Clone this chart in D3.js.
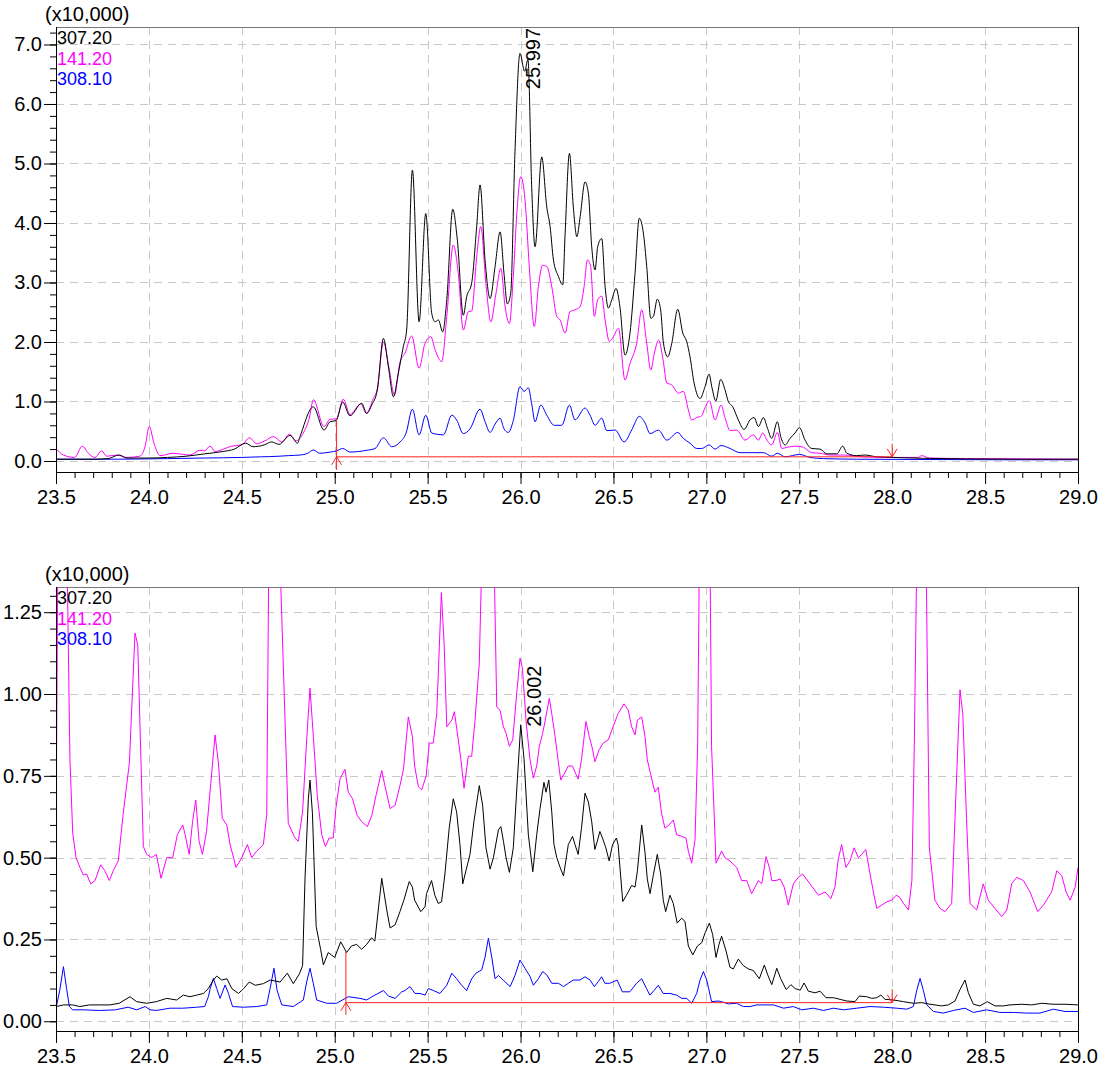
<!DOCTYPE html>
<html>
<head>
<meta charset="utf-8">
<script src="https://cdn.jsdelivr.net/npm/d3@7"></script>
<style>
  html, body { margin: 0; padding: 0; background: #fff; }
  svg { display: block; font-family: "Liberation Sans", Arial, sans-serif; }
</style>
</head>
<body>
<svg id="chart" width="1104" height="1068"></svg>
<script>
// ---- data: [retention time (min), intensity (x10,000)] ----
const top307 = [[23.50,0.03],[23.60,0.03],[23.70,0.03],[23.78,0.04],[23.84,0.10],[23.88,0.05],[24.00,0.05],[24.10,0.06],[24.20,0.08],[24.30,0.12],[24.40,0.16],[24.46,0.20],[24.52,0.30],[24.56,0.24],[24.62,0.27],[24.66,0.32],[24.70,0.28],[24.76,0.43],[24.80,0.30],[24.813,0.41],[24.885,0.91],[24.942,0.52],[24.975,0.66],[25.007,0.68],[25.043,0.99],[25.082,0.76],[25.145,0.97],[25.172,0.80],[25.199,0.94],[25.229,1.19],[25.262,2.06],[25.289,1.58],[25.316,1.08],[25.342,1.47],[25.369,1.92],[25.387,2.20],[25.418,4.89],[25.454,2.34],[25.490,4.16],[25.522,2.48],[25.540,2.34],[25.558,2.37],[25.581,2.17],[25.603,2.71],[25.635,4.23],[25.660,3.71],[25.692,2.45],[25.710,2.76],[25.737,2.99],[25.764,3.94],[25.782,4.64],[25.809,3.38],[25.836,2.73],[25.863,3.27],[25.890,3.85],[25.911,3.15],[25.929,2.64],[25.947,2.82],[25.970,5.2],[25.997,6.85],[26.022,6.55],[26.040,6.75],[26.060,4.6],[26.078,3.60],[26.114,5.11],[26.141,4.27],[26.159,3.94],[26.177,3.38],[26.204,3.10],[26.227,2.96],[26.240,3.83],[26.263,5.17],[26.284,4.27],[26.303,3.77],[26.321,4.11],[26.347,4.69],[26.365,4.50],[26.383,3.60],[26.401,3.21],[26.415,3.60],[26.437,3.74],[26.455,2.93],[26.473,2.57],[26.491,2.71],[26.514,2.90],[26.535,2.59],[26.562,1.78],[26.589,2.15],[26.616,3.15],[26.639,4.08],[26.661,3.83],[26.679,3.27],[26.701,2.40],[26.715,2.43],[26.736,2.72],[26.754,2.54],[26.769,1.98],[26.792,1.75],[26.814,1.98],[26.846,2.55],[26.873,2.15],[26.894,2.01],[26.912,1.75],[26.934,1.31],[26.966,1.05],[26.993,1.25],[27.015,1.46],[27.029,1.25],[27.051,1.01],[27.077,1.37],[27.101,1.19],[27.118,1.00],[27.142,0.91],[27.172,0.69],[27.203,0.53],[27.235,0.69],[27.257,0.73],[27.280,0.58],[27.307,0.73],[27.329,0.55],[27.352,0.38],[27.382,0.66],[27.400,0.41],[27.424,0.27],[27.450,0.38],[27.477,0.47],[27.501,0.56],[27.531,0.35],[27.567,0.21],[27.612,0.20],[27.648,0.12],[27.702,0.12],[27.734,0.25],[27.756,0.13],[27.809,0.09],[27.854,0.10],[27.917,0.07],[28.00,0.06],[28.168,0.045],[28.40,0.035],[28.70,0.03],[29.00,0.03]];

const top141 = [[23.50,0.21],[23.54,0.10],[23.60,0.06],[23.642,0.25],[23.674,0.13],[23.71,0.06],[23.746,0.17],[23.773,0.08],[23.83,0.10],[23.88,0.06],[23.95,0.08],[23.979,0.24],[24.002,0.58],[24.027,0.30],[24.06,0.09],[24.13,0.13],[24.185,0.11],[24.22,0.10],[24.275,0.18],[24.30,0.17],[24.329,0.25],[24.356,0.16],[24.41,0.21],[24.446,0.25],[24.50,0.27],[24.541,0.39],[24.58,0.29],[24.625,0.34],[24.67,0.41],[24.715,0.32],[24.756,0.45],[24.792,0.34],[24.831,0.47],[24.863,0.72],[24.885,1.03],[24.942,0.58],[24.975,0.70],[25.01,0.71],[25.046,1.04],[25.082,0.78],[25.14,0.96],[25.17,0.80],[25.208,1.05],[25.229,1.21],[25.262,2.00],[25.294,1.53],[25.321,1.11],[25.352,1.67],[25.378,1.81],[25.414,2.10],[25.454,1.56],[25.486,1.98],[25.517,2.09],[25.54,1.87],[25.576,1.67],[25.603,2.43],[25.638,3.63],[25.665,3.15],[25.692,2.20],[25.719,2.51],[25.737,2.52],[25.764,3.43],[25.786,3.94],[25.815,2.93],[25.84,2.34],[25.868,2.82],[25.894,3.24],[25.917,2.59],[25.94,2.31],[25.961,3.10],[25.98,4.16],[26.001,4.78],[26.024,4.39],[26.047,3.27],[26.074,2.26],[26.096,2.93],[26.119,3.29],[26.141,3.27],[26.168,2.93],[26.195,2.43],[26.213,2.37],[26.24,2.15],[26.266,2.51],[26.293,2.54],[26.32,2.59],[26.342,2.93],[26.36,3.38],[26.377,3.27],[26.397,2.43],[26.415,2.71],[26.437,2.77],[26.455,2.37],[26.478,2.01],[26.50,2.09],[26.527,2.23],[26.562,1.36],[26.589,1.64],[26.625,1.98],[26.652,2.54],[26.679,1.98],[26.701,1.53],[26.72,1.81],[26.743,2.03],[26.767,1.70],[26.787,1.31],[26.814,1.28],[26.849,1.14],[26.876,1.17],[26.903,0.86],[26.921,0.69],[26.948,0.73],[26.975,0.76],[26.993,0.90],[27.016,1.01],[27.047,0.69],[27.079,0.94],[27.101,0.72],[27.128,0.51],[27.164,0.52],[27.208,0.35],[27.253,0.44],[27.28,0.35],[27.303,0.47],[27.33,0.33],[27.352,0.27],[27.382,0.48],[27.406,0.21],[27.433,0.23],[27.486,0.25],[27.522,0.23],[27.567,0.14],[27.612,0.13],[27.666,0.10],[27.738,0.10],[27.845,0.07],[28.00,0.06],[28.14,0.06],[28.159,0.09],[28.20,0.05],[28.40,0.04],[28.70,0.035],[29.00,0.03]];

const top308 = [[23.50,0.03],[23.80,0.03],[24.10,0.04],[24.30,0.05],[24.50,0.06],[24.60,0.07],[24.70,0.08],[24.75,0.09],[24.813,0.10],[24.855,0.13],[24.885,0.185],[24.92,0.13],[24.975,0.15],[25.01,0.17],[25.043,0.21],[25.082,0.15],[25.172,0.18],[25.217,0.21],[25.262,0.39],[25.307,0.24],[25.352,0.32],[25.384,0.47],[25.418,0.87],[25.454,0.44],[25.49,0.77],[25.522,0.47],[25.549,0.45],[25.585,0.44],[25.63,0.77],[25.656,0.69],[25.692,0.46],[25.728,0.54],[25.782,0.87],[25.809,0.66],[25.836,0.48],[25.863,0.62],[25.89,0.72],[25.911,0.54],[25.934,0.48],[25.961,0.68],[25.997,1.25],[26.019,1.17],[26.042,1.23],[26.06,0.96],[26.078,0.66],[26.109,0.94],[26.141,0.77],[26.181,0.60],[26.222,0.60],[26.263,0.94],[26.293,0.69],[26.347,0.89],[26.374,0.77],[26.401,0.60],[26.437,0.72],[26.464,0.51],[26.509,0.52],[26.557,0.32],[26.598,0.52],[26.639,0.75],[26.67,0.64],[26.697,0.46],[26.742,0.52],[26.787,0.35],[26.846,0.48],[26.876,0.38],[26.912,0.30],[26.948,0.21],[26.975,0.21],[27.015,0.27],[27.047,0.20],[27.079,0.26],[27.128,0.21],[27.181,0.14],[27.253,0.14],[27.307,0.14],[27.352,0.08],[27.382,0.13],[27.424,0.07],[27.501,0.11],[27.558,0.06],[27.63,0.04],[27.809,0.03],[28.20,0.025],[28.60,0.02],[29.00,0.02]];

const bot307 = [[23.50,0.045],[23.54,0.05],[23.59,0.05],[23.628,0.045],[23.68,0.05],[23.733,0.05],[23.79,0.05],[23.84,0.055],[23.898,0.075],[23.934,0.06],[23.988,0.055],[24.04,0.06],[24.096,0.07],[24.149,0.065],[24.185,0.08],[24.221,0.075],[24.257,0.08],[24.293,0.085],[24.32,0.10],[24.347,0.126],[24.365,0.138],[24.392,0.126],[24.42,0.13],[24.446,0.10],[24.482,0.085],[24.51,0.10],[24.54,0.12],[24.572,0.11],[24.616,0.115],[24.652,0.126],[24.706,0.12],[24.745,0.147],[24.777,0.115],[24.81,0.145],[24.827,0.17],[24.84,0.435],[24.858,0.68],[24.867,0.737],[24.88,0.636],[24.90,0.29],[24.924,0.22],[24.939,0.172],[24.965,0.21],[25.00,0.195],[25.032,0.243],[25.064,0.21],[25.09,0.23],[25.118,0.235],[25.145,0.22],[25.172,0.235],[25.198,0.255],[25.216,0.245],[25.253,0.437],[25.28,0.34],[25.298,0.285],[25.325,0.295],[25.351,0.335],[25.372,0.37],[25.401,0.427],[25.418,0.41],[25.43,0.37],[25.463,0.335],[25.486,0.35],[25.494,0.39],[25.521,0.43],[25.539,0.385],[25.557,0.36],[25.575,0.365],[25.593,0.45],[25.616,0.59],[25.638,0.68],[25.656,0.64],[25.674,0.54],[25.689,0.42],[25.706,0.46],[25.728,0.51],[25.749,0.61],[25.778,0.72],[25.796,0.66],[25.814,0.53],[25.836,0.465],[25.854,0.50],[25.881,0.585],[25.894,0.595],[25.908,0.55],[25.922,0.50],[25.94,0.455],[25.961,0.53],[25.983,0.74],[26.001,0.906],[26.019,0.80],[26.042,0.57],[26.066,0.457],[26.087,0.57],[26.105,0.65],[26.126,0.73],[26.137,0.70],[26.152,0.737],[26.168,0.64],[26.18,0.54],[26.195,0.50],[26.213,0.47],[26.231,0.444],[26.249,0.51],[26.257,0.54],[26.28,0.565],[26.293,0.54],[26.31,0.51],[26.328,0.59],[26.347,0.697],[26.365,0.67],[26.383,0.61],[26.40,0.525],[26.413,0.55],[26.427,0.58],[26.441,0.56],[26.459,0.53],[26.477,0.49],[26.495,0.54],[26.516,0.56],[26.525,0.54],[26.55,0.366],[26.57,0.385],[26.598,0.415],[26.616,0.41],[26.629,0.46],[26.652,0.60],[26.67,0.515],[26.682,0.435],[26.697,0.39],[26.714,0.445],[26.736,0.51],[26.754,0.45],[26.768,0.37],[26.781,0.335],[26.804,0.385],[26.822,0.36],[26.843,0.30],[26.867,0.315],[26.885,0.305],[26.903,0.23],[26.927,0.203],[26.952,0.23],[26.975,0.24],[26.993,0.27],[27.016,0.30],[27.034,0.265],[27.052,0.195],[27.068,0.235],[27.082,0.26],[27.106,0.215],[27.127,0.165],[27.145,0.16],[27.172,0.19],[27.199,0.17],[27.226,0.16],[27.253,0.155],[27.285,0.13],[27.312,0.172],[27.33,0.142],[27.352,0.112],[27.379,0.162],[27.40,0.13],[27.43,0.097],[27.455,0.112],[27.478,0.10],[27.505,0.095],[27.526,0.117],[27.549,0.092],[27.585,0.087],[27.612,0.092],[27.644,0.072],[27.684,0.072],[27.72,0.067],[27.755,0.062],[27.80,0.06],[27.823,0.077],[27.863,0.075],[27.89,0.07],[27.917,0.072],[27.939,0.08],[27.962,0.067],[28.007,0.065],[28.061,0.06],[28.114,0.055],[28.159,0.057],[28.204,0.052],[28.266,0.047],[28.302,0.05],[28.338,0.062],[28.365,0.097],[28.392,0.126],[28.41,0.087],[28.437,0.052],[28.472,0.047],[28.512,0.06],[28.553,0.047],[28.598,0.047],[28.634,0.05],[28.697,0.052],[28.751,0.05],[28.805,0.055],[28.867,0.052],[28.93,0.052],[29.00,0.05]];

const bot141 = [[23.50,0.544],[23.512,1.6],[23.555,1.6],[23.575,0.8],[23.59,0.575],[23.608,0.50],[23.629,0.47],[23.647,0.447],[23.665,0.45],[23.687,0.42],[23.71,0.43],[23.74,0.478],[23.763,0.46],[23.787,0.43],[23.808,0.46],[23.835,0.49],[23.862,0.636],[23.895,0.79],[23.925,1.186],[23.94,1.15],[23.97,0.534],[23.988,0.51],[24.015,0.50],[24.04,0.51],[24.065,0.437],[24.096,0.50],[24.128,0.50],[24.153,0.57],[24.182,0.60],[24.195,0.57],[24.217,0.51],[24.235,0.61],[24.252,0.676],[24.27,0.55],[24.288,0.51],[24.31,0.58],[24.333,0.727],[24.356,0.875],[24.374,0.79],[24.395,0.62],[24.419,0.60],[24.437,0.54],[24.469,0.47],[24.50,0.50],[24.53,0.54],[24.553,0.50],[24.58,0.52],[24.616,0.54],[24.634,0.63],[24.645,1.4],[24.675,2.4],[24.706,1.4],[24.75,0.605],[24.786,0.56],[24.804,0.55],[24.827,0.64],[24.849,0.86],[24.867,1.018],[24.885,0.87],[24.906,0.69],[24.93,0.57],[24.95,0.534],[24.97,0.56],[24.992,0.56],[25.006,0.65],[25.028,0.74],[25.055,0.77],[25.073,0.70],[25.096,0.68],[25.12,0.63],[25.145,0.61],[25.176,0.595],[25.20,0.63],[25.222,0.69],[25.253,0.766],[25.27,0.72],[25.298,0.65],[25.325,0.66],[25.351,0.72],[25.37,0.77],[25.396,0.93],[25.418,0.87],[25.43,0.78],[25.45,0.717],[25.468,0.707],[25.492,0.75],[25.509,0.85],[25.53,0.85],[25.549,0.94],[25.563,1.145],[25.574,1.31],[25.589,1.15],[25.603,0.90],[25.63,0.92],[25.644,0.946],[25.665,0.86],[25.679,0.80],[25.696,0.712],[25.719,0.81],[25.737,0.81],[25.755,0.92],[25.778,1.094],[25.791,1.4],[25.825,2.4],[25.858,1.4],[25.872,0.96],[25.89,0.95],[25.908,0.90],[25.922,0.88],[25.94,0.84],[25.958,0.86],[25.979,1.00],[25.997,1.109],[26.01,1.08],[26.03,0.915],[26.051,0.80],[26.069,0.743],[26.087,0.78],[26.101,0.84],[26.119,0.88],[26.133,0.92],[26.155,0.987],[26.168,0.94],[26.186,0.87],[26.204,0.79],[26.216,0.737],[26.234,0.755],[26.257,0.78],[26.28,0.78],[26.298,0.755],[26.31,0.74],[26.328,0.80],[26.352,0.916],[26.37,0.87],[26.388,0.83],[26.40,0.793],[26.423,0.83],[26.445,0.85],[26.472,0.86],[26.498,0.90],[26.525,0.94],[26.557,0.97],[26.58,0.95],[26.598,0.90],[26.616,0.875],[26.629,0.92],[26.652,0.93],[26.67,0.87],[26.682,0.80],[26.70,0.755],[26.723,0.70],[26.741,0.715],[26.759,0.635],[26.777,0.59],[26.80,0.60],[26.822,0.615],[26.84,0.57],[26.867,0.565],[26.89,0.56],[26.903,0.52],[26.921,0.483],[26.939,0.555],[26.953,0.84],[26.962,1.4],[26.99,2.4],[27.02,1.4],[27.028,0.84],[27.052,0.483],[27.082,0.52],[27.10,0.50],[27.127,0.49],[27.163,0.47],[27.19,0.43],[27.217,0.43],[27.244,0.39],[27.28,0.43],[27.298,0.42],[27.321,0.503],[27.339,0.47],[27.352,0.43],[27.375,0.43],[27.397,0.435],[27.419,0.41],[27.441,0.355],[27.468,0.42],[27.495,0.44],[27.518,0.45],[27.558,0.42],[27.603,0.385],[27.639,0.395],[27.67,0.375],[27.692,0.41],[27.71,0.495],[27.728,0.54],[27.751,0.47],[27.773,0.49],[27.795,0.53],[27.818,0.50],[27.836,0.51],[27.858,0.525],[27.881,0.45],[27.899,0.395],[27.917,0.345],[27.944,0.355],[27.971,0.365],[27.998,0.37],[28.021,0.385],[28.039,0.38],[28.061,0.36],[28.088,0.34],[28.106,0.43],[28.119,0.84],[28.132,1.4],[28.158,2.4],[28.183,1.4],[28.20,0.53],[28.23,0.37],[28.257,0.345],[28.284,0.335],[28.32,0.36],[28.338,0.62],[28.365,1.013],[28.38,0.94],[28.40,0.62],[28.419,0.36],[28.455,0.34],[28.49,0.42],[28.517,0.37],[28.553,0.345],[28.59,0.32],[28.617,0.34],[28.643,0.42],[28.67,0.44],[28.706,0.43],[28.742,0.395],[28.783,0.335],[28.814,0.355],[28.858,0.395],[28.886,0.46],[28.913,0.445],[28.936,0.395],[28.958,0.37],[28.985,0.41],[29.00,0.47]];

const bot308 = [[23.50,0.04],[23.52,0.094],[23.54,0.167],[23.557,0.10],[23.572,0.045],[23.59,0.035],[23.647,0.035],[23.733,0.033],[23.82,0.035],[23.888,0.043],[23.934,0.035],[23.98,0.045],[24.006,0.035],[24.04,0.033],[24.113,0.04],[24.185,0.04],[24.257,0.043],[24.30,0.045],[24.32,0.075],[24.33,0.10],[24.347,0.131],[24.365,0.10],[24.383,0.07],[24.41,0.111],[24.428,0.085],[24.45,0.045],[24.51,0.043],[24.58,0.045],[24.634,0.05],[24.652,0.10],[24.673,0.162],[24.69,0.094],[24.715,0.05],[24.777,0.045],[24.831,0.065],[24.849,0.12],[24.867,0.162],[24.885,0.115],[24.903,0.065],[24.957,0.055],[25.01,0.055],[25.073,0.075],[25.136,0.07],[25.172,0.065],[25.20,0.075],[25.262,0.094],[25.289,0.077],[25.325,0.07],[25.361,0.09],[25.378,0.094],[25.405,0.106],[25.432,0.085],[25.459,0.085],[25.486,0.08],[25.504,0.10],[25.531,0.094],[25.566,0.085],[25.603,0.11],[25.63,0.147],[25.656,0.13],[25.683,0.11],[25.71,0.094],[25.737,0.13],[25.76,0.147],[25.791,0.157],[25.809,0.196],[25.827,0.254],[25.845,0.196],[25.863,0.13],[25.881,0.14],[25.908,0.125],[25.944,0.106],[25.97,0.14],[25.997,0.187],[26.024,0.162],[26.051,0.137],[26.069,0.11],[26.096,0.13],[26.119,0.152],[26.141,0.142],[26.168,0.116],[26.204,0.116],[26.231,0.106],[26.257,0.116],[26.284,0.126],[26.32,0.126],[26.347,0.136],[26.374,0.126],[26.397,0.106],[26.418,0.121],[26.436,0.136],[26.454,0.116],[26.48,0.116],[26.52,0.126],[26.548,0.09],[26.588,0.09],[26.624,0.116],[26.652,0.13],[26.678,0.10],[26.696,0.08],[26.718,0.094],[26.741,0.11],[26.768,0.085],[26.804,0.085],[26.84,0.08],[26.867,0.07],[26.894,0.07],[26.921,0.055],[26.948,0.085],[26.966,0.126],[26.984,0.152],[27.002,0.126],[27.028,0.06],[27.064,0.062],[27.082,0.06],[27.118,0.053],[27.163,0.055],[27.199,0.045],[27.235,0.045],[27.271,0.05],[27.325,0.05],[27.361,0.05],[27.415,0.04],[27.468,0.045],[27.513,0.035],[27.576,0.04],[27.63,0.033],[27.684,0.04],[27.738,0.035],[27.809,0.04],[27.881,0.045],[27.953,0.043],[28.025,0.04],[28.079,0.037],[28.114,0.045],[28.132,0.094],[28.15,0.131],[28.168,0.094],[28.186,0.05],[28.222,0.03],[28.275,0.025],[28.329,0.033],[28.392,0.04],[28.437,0.027],[28.508,0.035],[28.58,0.027],[28.652,0.027],[28.724,0.025],[28.795,0.025],[28.867,0.037],[28.93,0.03],[29.00,0.03]];

const channels = ["307.20", "141.20", "308.10"];
const channelColors = ["#000000", "#ff00ff", "#0000ff"];
const xMajorTicks = [23.5, 24.0, 24.5, 25.0, 25.5, 26.0, 26.5, 27.0, 27.5, 28.0, 28.5, 29.0];
const topYTicks = [0, 1, 2, 3, 4, 5, 6, 7];
const botYTicks = [0, 0.25, 0.5, 0.75, 1.0, 1.25];

// peak label and integration marks (start, end, baseline, marker tops)
const topPeak = { t: 25.997, v: 6.85, label: "25.997" };
const botPeak = { t: 26.002, v: 0.906, label: "26.002" };
const topMarks = { start: 25.01, end: 28.0, base: 0.07, startHi: 0.71, startLo: -0.15, endHi: 0.29 };
const botMarks = { start: 25.06, end: 28.0, base: 0.057, startHi: 0.213, startLo: 0.02, endHi: 0.098 };

const svg = d3.select("#chart");
const left = 56, right = 1078;

const x = d3.scaleLinear().domain([23.5, 29.0]).range([left, right]);

const panels = [
  { top: 27, bottom: 472, domain: [-0.185, 7.294], ticks: topYTicks, minor: 0.2, fmt: d3.format(".1f"),
    series: [top308, top141, top307], peak: topPeak, marks: topMarks, curve: d3.curveMonotoneX },
  { top: 587, bottom: 1031, domain: [-0.0297, 1.327], ticks: botYTicks, minor: 0.05, fmt: d3.format(".2f"),
    series: [bot308, bot141, bot307], peak: botPeak, marks: botMarks, curve: d3.curveLinear }
];
const seriesColors = ["#0000ff", "#ff00ff", "#000000"];

panels.forEach((p, i) => {
  const y = d3.scaleLinear().domain(p.domain).range([p.bottom, p.top]);
  const g = svg.append("g");

  const clipId = "clip" + i;
  svg.append("clipPath").attr("id", clipId)
    .append("rect")
    .attr("x", left).attr("y", p.top)
    .attr("width", right - left).attr("height", p.bottom - p.top);

  // dashed grid
  const grid = g.append("g")
    .attr("stroke", "#c8c8c8")
    .attr("stroke-width", 1)
    .attr("stroke-dasharray", "8,6");
  grid.selectAll("line.v")
    .data(xMajorTicks.filter(t => t > 23.5 && t < 29.0))
    .join("line")
    .attr("x1", d => Math.round(x(d)) + 0.5).attr("x2", d => Math.round(x(d)) + 0.5)
    .attr("y1", p.top).attr("y2", p.bottom);
  grid.selectAll("line.h")
    .data(p.ticks)
    .join("line")
    .attr("x1", left).attr("x2", right)
    .attr("y1", d => Math.round(y(d)) + 0.5).attr("y2", d => Math.round(y(d)) + 0.5);

  // frame: top edge grey, others black
  g.append("line")
    .attr("x1", left).attr("x2", right)
    .attr("y1", p.top + 0.5).attr("y2", p.top + 0.5)
    .attr("stroke", "#777");
  g.append("line")
    .attr("x1", right + 0.5).attr("x2", right + 0.5)
    .attr("y1", p.top).attr("y2", p.bottom)
    .attr("stroke", "#000");

  // traces
  const line = d3.line().curve(p.curve).x(d => x(d[0])).y(d => y(d[1]));
  const traces = g.append("g").attr("clip-path", `url(#${clipId})`);
  p.series.forEach((s, k) => {
    traces.append("path")
      .datum(s)
      .attr("fill", "none")
      .attr("stroke", seriesColors[k])
      .attr("stroke-width", 1)
      .attr("stroke-linejoin", "round")
      .attr("d", line);
  });

  // integration baseline and markers
  const m = p.marks;
  const red = g.append("g").attr("stroke", "#ff2020").attr("stroke-width", 1).attr("fill", "none");
  const yb = y(m.base);
  red.append("line")
    .attr("x1", x(m.start)).attr("x2", x(m.end))
    .attr("y1", yb).attr("y2", yb);
  red.append("line")
    .attr("x1", x(m.start)).attr("x2", x(m.start))
    .attr("y1", y(m.startHi)).attr("y2", y(m.startLo));
  red.append("path")
    .attr("d", `M${x(m.start) - 5},${yb + 8}L${x(m.start)},${yb}L${x(m.start) + 5},${yb + 8}`);
  red.append("line")
    .attr("x1", x(m.end)).attr("x2", x(m.end))
    .attr("y1", y(m.endHi)).attr("y2", yb);
  red.append("path")
    .attr("d", `M${x(m.end) - 5},${yb - 8}L${x(m.end)},${yb}L${x(m.end) + 5},${yb - 8}`);

  // peak label, rotated, kept inside the frame
  const lab = g.append("text")
    .attr("font-size", 20)
    .attr("fill", "#000")
    .text(p.peak.label);
  const w = lab.node().getComputedTextLength();
  const ly = Math.max(y(p.peak.v) + 2, p.top + w + 1);
  lab.attr("transform", `translate(${x(p.peak.t) + 20},${ly}) rotate(-90)`);

  // y axis: major + minor ticks
  const minorVals = d3.range(Math.ceil(p.domain[0] / p.minor), Math.floor(p.domain[1] / p.minor) + 1)
    .map(k => +(k * p.minor).toFixed(4));
  const yMinor = g.append("g")
    .attr("transform", `translate(${left},0)`)
    .call(d3.axisLeft(y).tickValues(minorVals).tickSize(6).tickFormat(""));
  yMinor.select(".domain").remove();
  const yMajor = g.append("g")
    .attr("transform", `translate(${left},0)`)
    .call(d3.axisLeft(y).tickValues(p.ticks).tickSize(12).tickPadding(2).tickFormat(p.fmt));
  yMajor.select(".domain").attr("d", `M0.5,${p.top}V${p.bottom}`);

  // x axis
  const xMinorVals = d3.range(235, 291).map(k => k / 10);
  const xMinor = g.append("g")
    .attr("transform", `translate(0,${p.bottom})`)
    .call(d3.axisBottom(x).tickValues(xMinorVals).tickSize(6).tickFormat(""));
  xMinor.select(".domain").remove();
  const xAxis = g.append("g")
    .attr("transform", `translate(0,${p.bottom})`)
    .call(d3.axisBottom(x).tickValues(xMajorTicks).tickSize(12).tickPadding(6).tickFormat(d3.format(".1f")));
  xAxis.select(".domain").attr("d", `M${left},0.5H${right + 1}`);

  g.selectAll(".tick text").attr("font-size", 20).attr("font-family", "Liberation Sans, Arial, sans-serif").attr("fill", "#000");
  g.selectAll(".tick line, .domain").attr("stroke", "#000");

  // unit label and channel legend
  g.append("text")
    .attr("x", 45).attr("y", p.top - 6)
    .attr("font-size", 20)
    .text("(x10,000)");
  channels.forEach((c, k) => {
    g.append("text")
      .attr("x", left + 1)
      .attr("y", p.top + 17 + k * 20.5)
      .attr("font-size", 18)
      .attr("fill", channelColors[k])
      .text(c);
  });
});
</script>
</body>
</html>
